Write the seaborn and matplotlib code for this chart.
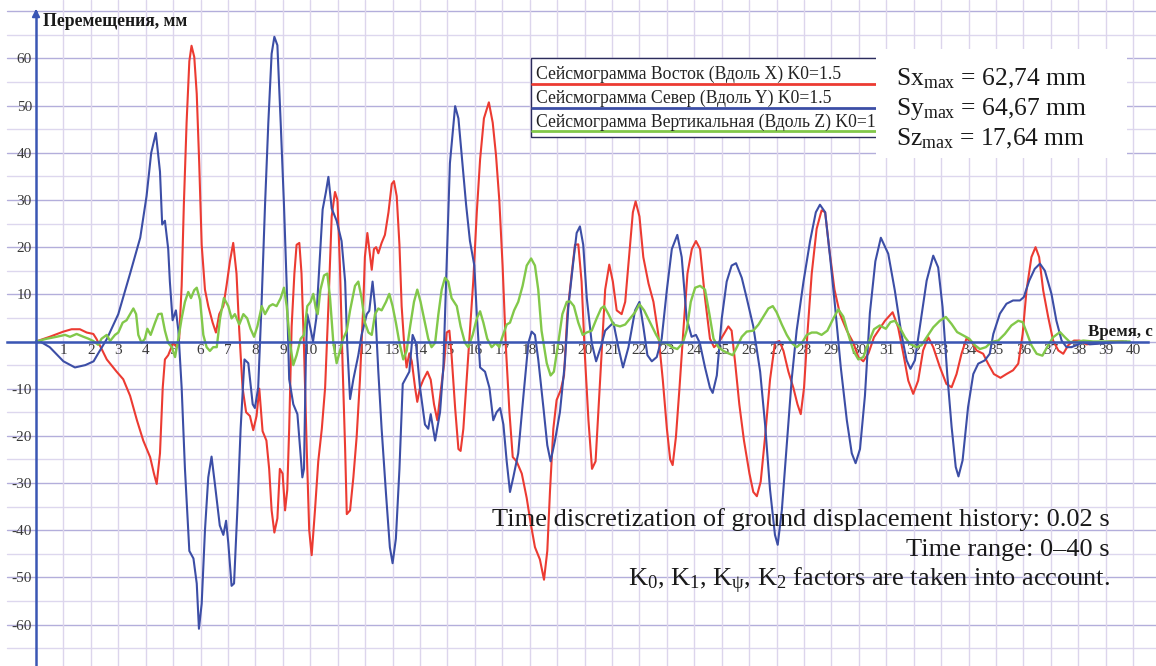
import numpy as np
import pandas as pd
import matplotlib
matplotlib.use("Agg")
import matplotlib.pyplot as plt
import seaborn as sns
from matplotlib.lines import Line2D
from matplotlib.patches import Rectangle

# ---------------- data ----------------
t_x = [0, 0.5, 1.0, 1.3, 1.6, 1.85, 2.09, 2.2, 2.36, 2.58, 2.94, 3.18, 3.43, 3.68, 3.91, 4.16, 4.3, 4.4, 4.52, 4.62,
       4.7, 4.82, 5.0, 5.13, 5.22, 5.31, 5.39, 5.49, 5.59, 5.67, 5.77, 5.86, 5.95, 6.04, 6.16, 6.28, 6.44, 6.56, 6.68, 6.83,
       6.95, 7.07, 7.19, 7.31, 7.41, 7.53, 7.66, 7.8, 7.92, 8.04, 8.14, 8.26, 8.4, 8.5, 8.59, 8.69, 8.8, 8.89, 8.99, 9.08,
       9.16, 9.23, 9.32, 9.42, 9.5, 9.6, 9.68, 9.77, 9.87, 9.96, 10.05, 10.17, 10.29, 10.42, 10.54, 10.66, 10.78, 10.9, 10.99, 11.08,
       11.18, 11.27, 11.33, 11.45, 11.57, 11.69, 11.81, 11.93, 11.99, 12.08, 12.15, 12.24, 12.32, 12.4, 12.48, 12.6, 12.72, 12.85, 12.97, 13.05,
       13.15, 13.25, 13.33, 13.43, 13.51, 13.61, 13.7, 13.82, 13.9, 14.0, 14.12, 14.27, 14.39, 14.51, 14.63, 14.75, 14.88, 14.97, 15.07, 15.15,
       15.28, 15.4, 15.48, 15.58, 15.7, 15.82, 15.94, 16.07, 16.19, 16.33, 16.51, 16.65, 16.77, 16.89, 17.01, 17.13, 17.26, 17.38, 17.52, 17.71,
       17.89, 18.03, 18.19, 18.37, 18.52, 18.64, 18.74, 18.86, 18.98, 19.13, 19.25, 19.37, 19.53, 19.65, 19.77, 19.89, 20.01, 20.14, 20.27, 20.4,
       20.5, 20.63, 20.75, 20.9, 21.03, 21.17, 21.35, 21.48, 21.63, 21.76, 21.86, 22.0, 22.14, 22.33, 22.51, 22.69, 22.85, 23.0, 23.12, 23.21,
       23.33, 23.46, 23.6, 23.75, 23.91, 24.06, 24.21, 24.39, 24.57, 24.72, 24.88, 25.06, 25.24, 25.36, 25.49, 25.64, 25.81, 26.01, 26.15, 26.28,
       26.42, 26.58, 26.76, 26.94, 27.1, 27.25, 27.43, 27.61, 27.76, 27.88, 28.0, 28.12, 28.28, 28.46, 28.64, 28.77, 28.92, 29.11, 29.31, 29.56,
       29.8, 29.98, 30.16, 30.35, 30.55, 30.95, 31.23, 31.43, 31.62, 31.8, 31.98, 32.16, 32.34, 32.53, 32.71, 32.95, 33.19, 33.38, 33.56, 33.74,
       33.92, 34.11, 34.29, 34.53, 34.71, 34.92, 35.16, 35.38, 35.62, 35.81, 35.97, 36.11, 36.29, 36.44, 36.57, 36.72, 36.9, 37.08, 37.27, 37.45,
       37.63, 37.84, 38.05, 38.3, 38.66, 39.15, 39.63]
v_x = [0, 1, 2.1, 2.6, 2.6, 1.9, 1.6, 0.6, -1.2, -3.8, -6.4, -8, -11.5, -16.7, -21, -24.5, -28, -30.2, -23.7, -9.8,
       -3.8, -2.9, -0.3, -1.2, 0.6, 11.8, 29, 46.4, 59.4, 62.7, 60.3, 52.5, 37.8, 20.5, 11, 7.5, 4, 1.9, 5.8, 7.5,
       12, 17, 20.9, 14.4, 2.3, -9.8, -15, -15.8, -18.8, -15.8, -10, -19, -21, -27, -35.8, -40.5, -37.5, -27, -28, -35.8,
       -31.5, -18.5, 3.2, 14.4, 20.5, 20.9, 14.4, -1.2, -22.8, -40, -45.3, -35.8, -25.4, -18.5, -9.8, 7.5, 26.5, 31.7, 30, 16.1,
       -5.5, -22.8, -36.6, -35.8, -28.8, -20.2, -8.1, 7.5, 17.9, 23, 19.6, 15.2, 19.6, 20, 18.7, 20.9, 22.6, 27.4, 33.4, 34,
       30.8, 20.5, 7.5, -1.2, -5.5, -2.5, -4.2, -9.8, -12.8, -9.8, -8.1, -6.4, -8.1, -13.3, -16.7, -10.7, -4.6, 1.9, 2.3, -2.9,
       -14.1, -22.8, -23.2, -18.5, -8.1, 2.3, 12.7, 27.4, 38.6, 47.3, 50.7, 46.4, 39.5, 30, 16.1, -1.2, -15, -24.5, -25.4, -28,
       -33.2, -38.4, -43.6, -46.2, -50.5, -44.4, -31.5, -18.5, -12.4, -10.3, -7.2, 5.8, 14.4, 20.5, 20.6, 12.7, -2.9, -16.7, -27, -25.4,
       -15, -1.2, 11, 16.3, 12.7, 6.6, 5.8, 8.4, 18.7, 27.4, 29.7, 26.5, 17.9, 12.3, 8.4, 1.4, -8.1, -18.5, -25, -26.2,
       -20.2, -9.8, 2.3, 14.4, 19.6, 21.3, 19.6, 9.2, 0.6, -1.2, -0.3, 1.4, 3.2, 2.3, -4.6, -13.3, -21, -28, -31.9, -32.8,
       -29.7, -20.2, -8.1, -0.3, 0.1, -2, -6.4, -9.8, -13.3, -15.4, -9.8, 1.4, 14.4, 23.9, 27.8, 27.4, 19.6, 11, 5.8, 2.3,
       -0.3, -3.3, -4.2, -2.5, 0.9, 4.4, 6.2, 3, -2.6, -8.3, -11.1, -8.3, -1.9, 0.9, -1.2, -5.4, -9, -9.7, -6.9, -2.6,
       0.6, -0.1, -1.9, -2.6, -4.7, -6.9, -7.7, -6.9, -6.1, -4.7, 1.6, 10.8, 17.9, 20, 17.9, 10.8, 5.2, 0.2, -1.9, -2.6,
       -0.8, 0.2, 0.2, -0.6, -0.4, 0, 0]

t_y = [0, 0.15, 0.5, 1.0, 1.42, 1.8, 2.1, 2.27, 2.58, 3.0, 3.43, 3.8, 4.03, 4.2, 4.37, 4.52, 4.6, 4.7, 4.82, 4.88,
       4.98, 5.1, 5.19, 5.31, 5.43, 5.59, 5.74, 5.86, 5.94, 6.04, 6.16, 6.28, 6.4, 6.53, 6.7, 6.83, 6.93, 7.01, 7.13, 7.22,
       7.34, 7.46, 7.6, 7.74, 7.9, 7.98, 8.1, 8.22, 8.35, 8.47, 8.59, 8.69, 8.8, 8.92, 9.04, 9.14, 9.23, 9.38, 9.53, 9.62,
       9.71, 9.77, 9.84, 9.89, 9.99, 10.1, 10.22, 10.33, 10.45, 10.57, 10.66, 10.78, 10.96, 11.14, 11.27, 11.35, 11.45, 11.57, 11.75, 11.87,
       12.06, 12.15, 12.27, 12.36, 12.48, 12.6, 12.76, 12.9, 13.0, 13.12, 13.25, 13.37, 13.49, 13.61, 13.73, 13.85, 14.0, 14.18, 14.3, 14.39,
       14.55, 14.73, 14.85, 14.97, 15.09, 15.28, 15.4, 15.52, 15.68, 15.82, 15.98, 16.07, 16.19, 16.37, 16.53, 16.67, 16.79, 16.92, 17.04, 17.16,
       17.28, 17.4, 17.58, 17.77, 17.95, 18.07, 18.19, 18.31, 18.5, 18.64, 18.76, 18.92, 19.1, 19.28, 19.41, 19.59, 19.71, 19.83, 19.95, 20.08,
       20.26, 20.42, 20.6, 20.75, 21.05, 21.23, 21.4, 21.6, 21.84, 22.0, 22.14, 22.29, 22.45, 22.63, 22.81, 23.0, 23.18, 23.38, 23.54, 23.72,
       23.9, 24.06, 24.2, 24.39, 24.57, 24.67, 24.82, 25.0, 25.18, 25.36, 25.52, 25.73, 25.91, 26.15, 26.4, 26.58, 26.76, 26.94, 27.04, 27.19,
       27.37, 27.55, 27.73, 27.98, 28.22, 28.43, 28.58, 28.77, 28.95, 29.13, 29.34, 29.56, 29.74, 29.88, 30.04, 30.22, 30.4, 30.6, 30.8, 31.07,
       31.31, 31.55, 31.74, 31.88, 32.04, 32.22, 32.47, 32.71, 32.89, 33.05, 33.22, 33.38, 33.53, 33.63, 33.78, 33.98, 34.17, 34.35, 34.59, 34.77,
       34.9, 35.14, 35.38, 35.62, 35.87, 36.01, 36.21, 36.41, 36.6, 36.78, 37.02, 37.2, 37.39, 37.57, 37.75, 37.93, 38.18, 38.42, 38.9, 39.4,
       39.75]
v_y = [0, 0, -1.2, -4.2, -5.5, -5, -4.2, -2.5, 0.5, 5.8, 14.4, 22, 30.8, 40, 44.2, 36, 24.8, 25.6, 19.6, 12.7,
       4.5, 6.6, 2.3, -9.8, -27, -44.4, -46, -51.3, -60.9, -55.6, -40, -28.8, -24.4, -30.6, -39, -41, -38, -42.7, -51.8, -51.3,
       -35.8, -18.5, -3.8, -4.6, -13.3, -14.1, -9.8, 7.5, 29, 46.4, 61, 64.6, 62.8, 46.4, 29, 11.8, -8, -13.3, -15.4, -22,
       -28.8, -27, -2.9, 5.8, 3.2, 0, 5, 16, 28, 31.7, 34.9, 28.2, 25.6, 21.3, 12.7, -1.2, -12.2, -8, -2.9, 1.4,
       5.8, 6.5, 12.7, 7.5, -6.4, -18.5, -32.3, -43.6, -47, -41.8, -27, -9, -7.7, -6.4, 1.4, -0.3, -9.8, -17.6, -18.5, -15.4,
       -21, -15, -5.5, 16, 37.8, 49.9, 47.3, 39.5, 29, 21.3, 16.1, 5.7, -5.5, -6.4, -9.8, -16.7, -15, -14.1, -17.6, -25.4,
       -31.9, -28.8, -23.7, -11.5, -0.3, 2.1, 1.4, -3.8, -14.1, -22, -25.4, -21, -15, -4.6, 7.5, 17, 23, 24.4, 20.5, 9.2,
       -0.3, -4.2, -1, 2.3, 4, -1.2, -5.5, -1.2, 6.6, 8.4, 3.2, -2.9, -4.2, -3.3, 0.6, 11, 19.6, 22.6, 17.9, 4.9,
       1, 1.4, -0.3, -5.5, -9.8, -10.9, -7.2, 4.9, 12.7, 16.1, 16.6, 13.5, 9.2, 3.2, -6.4, -17.6, -31.4, -41, -43.1, -35.8,
       -22, -8, 2.3, 12.7, 21.3, 27.4, 29, 27.4, 17.9, 7.5, -5.5, -16.7, -23.7, -25.8, -22.8, -11.5, 6, 17, 22, 18.6,
       10.8, 1.6, -4, -5.8, -4, 3, 12.9, 18.2, 15.7, 7.3, -6.9, -18.1, -26.6, -28.6, -25.2, -13.9, -6.9, -4.7, -4, -2.6,
       1.6, 5.9, 8, 8.7, 8.7, 9.4, 12.9, 15.4, 16.5, 15, 10.1, 4.4, 0.2, -1.2, -1.2, -0.8, -0.1, -0.6, -0.4, -0.1,
       0]

t_z = [0, 0.4, 0.75, 1.06, 1.24, 1.48, 1.73, 1.91, 2.09, 2.27, 2.39, 2.58, 2.7, 2.88, 3.0, 3.16, 3.3, 3.43, 3.55, 3.65,
       3.73, 3.85, 3.97, 4.06, 4.18, 4.34, 4.46, 4.58, 4.7, 4.82, 4.95, 5.07, 5.19, 5.31, 5.43, 5.55, 5.65, 5.77, 5.86, 5.98,
       6.1, 6.22, 6.34, 6.46, 6.59, 6.71, 6.85, 7.01, 7.13, 7.25, 7.41, 7.56, 7.7, 7.82, 7.95, 8.07, 8.23, 8.35, 8.51, 8.63,
       8.77, 8.92, 9.04, 9.14, 9.26, 9.38, 9.5, 9.65, 9.77, 9.89, 10.01, 10.11, 10.2, 10.27, 10.37, 10.5, 10.62, 10.72, 10.84, 10.96,
       11.08, 11.2, 11.33, 11.45, 11.63, 11.75, 11.87, 11.99, 12.12, 12.24, 12.36, 12.48, 12.6, 12.76, 12.88, 13.0, 13.12, 13.25, 13.39, 13.51,
       13.64, 13.78, 13.9, 14.02, 14.18, 14.3, 14.42, 14.55, 14.67, 14.79, 14.91, 15.03, 15.15, 15.34, 15.48, 15.64, 15.76, 15.92, 16.07, 16.19,
       16.31, 16.45, 16.61, 16.77, 16.89, 16.98, 17.16, 17.28, 17.43, 17.58, 17.74, 17.89, 18.05, 18.19, 18.31, 18.43, 18.62, 18.76, 18.88, 19.04,
       19.19, 19.35, 19.47, 19.61, 19.77, 19.93, 20.07, 20.26, 20.44, 20.6, 20.71, 20.87, 21.05, 21.29, 21.48, 21.66, 21.84, 22.0, 22.17, 22.39,
       22.61, 22.78, 22.97, 23.18, 23.38, 23.58, 23.72, 23.87, 24.03, 24.21, 24.39, 24.55, 24.7, 24.88, 25.06, 25.24, 25.4, 25.55, 25.73, 25.91,
       26.15, 26.34, 26.52, 26.7, 26.86, 27.0, 27.19, 27.37, 27.55, 27.73, 27.92, 28.1, 28.28, 28.46, 28.64, 28.85, 29.07, 29.25, 29.43, 29.62,
       29.8, 29.98, 30.16, 30.35, 30.55, 30.76, 30.98, 31.15, 31.31, 31.49, 31.68, 31.86, 32.1, 32.28, 32.47, 32.71, 32.95, 33.17, 33.38, 33.58,
       33.8, 34.02, 34.23, 34.41, 34.63, 34.83, 35.08, 35.32, 35.56, 35.81, 35.97, 36.11, 36.29, 36.48, 36.69, 36.9, 37.08, 37.33, 37.51, 37.69,
       37.93, 38.18, 38.54, 39.15, 39.88]
v_z = [0, 0.6, 1, 1.4, 1, 1.6, 1, 0.6, 0.1, -0.7, 0.6, 1.4, 0.1, 1.4, 1.9, 4, 4.5, 5.8, 7, 5.8,
       1.4, -0.3, 0.6, 2.7, 1.4, 4, 5.8, 5.9, 2.3, -0.3, -1.2, -3.3, 0.6, 4.9, 8.4, 10.5, 9.2, 10.9, 11.4, 8.8,
       1.4, -1.2, -2, -1.2, -1.2, 4.9, 9.2, 7.5, 4.9, 5.8, 3.6, 5.8, 4.9, 2.7, 1, 3.2, 7.5, 5.8, 7.5, 7.9,
       7.5, 9.2, 11.4, 7.5, -0.3, -5, -2.9, 0.6, 1.4, 7.5, 8.4, 10.1, 7, 5.8, 11, 14, 14.4, 9.2, -0.3, -4.6,
       -2, 0.6, 2.3, 6.6, 11.8, 12.7, 9.2, 4, 1.9, 1.4, 5.8, 7, 6.6, 8.4, 10.1, 7.5, 4, -0.3, -3.8, -2,
       3.2, 8.4, 11, 8.4, 4, 0.6, -1.2, -0.3, 5.8, 11, 13.5, 12.7, 9.2, 7.5, 3.2, -0.3, -1.2, 1.4, 4.9, 6.4,
       4, 0.6, -1.2, -0.3, -1.2, 0.6, 3.6, 4, 6.6, 8.4, 11.8, 16.1, 17.6, 16.1, 11, 2.3, -4.6, -7.2, -6.4, -0.3,
       5.8, 8.4, 8.5, 7.5, 4, 1.4, 1.9, 2.3, 4.9, 7, 7.5, 5.8, 3.6, 3.2, 3.6, 4.9, 6.2, 7.9, 6.6, 4,
       1.4, -0.3, -0.3, -1.2, -1.6, -0.3, 2.3, 8.4, 11.4, 11.8, 11, 5.8, 0.6, -1.2, -2, -2.5, -2.9, -1.2, 1, 2.1,
       2.3, 3.6, 5.3, 7, 7.5, 6.2, 3.6, 1.4, -0.3, -1.2, -0.3, 1.4, 1.9, 1.9, 1.4, 2.3, 4.9, 6.8, 5.3, 1.4,
       -2, -3.8, -3.3, -0.3, 2.6, 3.4, 2.7, 4.1, 4.4, 3, 0.9, -0.5, -1.2, -0.8, 0.9, 3, 4.4, 5.2, 3.7, 2,
       1.3, 0.6, -0.8, -1.6, -1.2, -0.1, 0.2, 1.6, 3.4, 4.4, 4.1, 2, -0.8, -2.6, -3, -0.8, 0.9, 2, 0.9, -0.1,
       -0.1, 0.2, 0, 0, 0]

series_names = ["Сейсмограмма Восток (Вдоль X) K0=1.5",
                "Сейсмограмма Север (Вдоль Y) K0=1.5",
                "Сейсмограмма Вертикальная (Вдоль Z) K0=1.5"]
x_ticks = list(range(1, 41))
y_ticks = [60, 50, 40, 30, 20, 10, -10, -20, -30, -40, -50, -60]
y_tick_labels = [str(v) for v in y_ticks]
max_labels = ["62,74", "64,67", "17,64"]
note_lines = ["Time discretization of ground displacement history: 0.02 s",
              "Time range: 0\u201340 s",
              r"K$_{\mathrm{0}}$, K$_{\mathrm{1}}$, K$_{\mathrm{\psi}}$, K$_{\mathrm{2}}$ factors are taken into account."]

# ---------------- style ----------------
sns.set_theme(style="white")
plt.rcParams["font.family"] = ["Liberation Serif", "DejaVu Serif"]
plt.rcParams["axes.unicode_minus"] = False
plt.rcParams["mathtext.fontset"] = "custom"
plt.rcParams["mathtext.rm"] = "Liberation Serif"
plt.rcParams["mathtext.it"] = "Liberation Serif:italic"
plt.rcParams["mathtext.bf"] = "Liberation Serif:bold"

RED = "#ec3b32"
BLUE = "#3c4ea6"
GREEN = "#82c84a"
AXIS = "#3a56b4"
W, H = 1156, 666

fig = plt.figure(figsize=(W / 100, H / 100), dpi=100)
ax = fig.add_axes([0, 0, 1, 1])
PX_PER_S = 27.43
PX_PER_MM = 4.717
X0, Y0 = 36.0, 341.5
ax.set_xlim(-X0 / PX_PER_S, (W - X0) / PX_PER_S)
ax.set_ylim(-(H - Y0) / PX_PER_MM, Y0 / PX_PER_MM)
ax.set_facecolor("white")

# grid
xmin_frac = 7 / W
for v in range(-65, 75, 5):
    col = "#b3aedb" if v % 10 == 0 else "#ddd7ee"
    ax.axhline(v, xmin=xmin_frac, color=col, lw=1.0, zorder=0)
for t in x_ticks:
    ax.axvline(t, color="#dcd5ec", lw=1.0, zorder=0)

# curves
df_x = pd.DataFrame({"t": t_x, "v": v_x})
df_y = pd.DataFrame({"t": t_y, "v": v_y})
df_z = pd.DataFrame({"t": t_z, "v": v_z})
sns.lineplot(data=df_x, x="t", y="v", ax=ax, color=RED, lw=1.5, estimator=None, sort=False, zorder=3)
sns.lineplot(data=df_y, x="t", y="v", ax=ax, color=BLUE, lw=1.5, estimator=None, sort=False, zorder=3)
sns.lineplot(data=df_z, x="t", y="v", ax=ax, color=GREEN, lw=1.7, estimator=None, sort=False, zorder=3)
ax.set_xlabel("")
ax.set_ylabel("")

# axes lines
for s in ["top", "right"]:
    ax.spines[s].set_visible(False)
ax.spines["left"].set_position(("data", 0))
ax.spines["bottom"].set_position(("data", 0))
ax.spines["left"].set_color(AXIS)
ax.spines["bottom"].set_color(AXIS)
ax.spines["left"].set_linewidth(1.8)
ax.spines["bottom"].set_linewidth(1.8)
ax.spines["left"].set_zorder(4)
ax.spines["bottom"].set_zorder(4)
ax.spines["left"].set_bounds(ax.get_ylim()[0], (Y0 - 12) / PX_PER_MM)
ax.spines["bottom"].set_bounds(-29 / PX_PER_S, (W - 8 - X0) / PX_PER_S)
ax.annotate("", xy=(0, (Y0 - 6) / PX_PER_MM), xytext=(0, (Y0 - 16) / PX_PER_MM),
            arrowprops=dict(arrowstyle="-|>", color=AXIS, lw=1.5, mutation_scale=11), zorder=4)
ax.annotate("", xy=((W + 1 - X0) / PX_PER_S, 0), xytext=((W - 12 - X0) / PX_PER_S, 0),
            arrowprops=dict(arrowstyle="-|>", color=AXIS, lw=1.5, mutation_scale=11), zorder=4)

ax.set_xticks(x_ticks)
ax.set_xticklabels([str(t) for t in x_ticks])
ax.set_yticks(y_ticks)
ax.set_yticklabels(y_tick_labels)
ax.tick_params(axis="both", length=0, labelsize=11, colors="#3a3a3a")
ax.tick_params(axis="x", pad=2.0)
ax.tick_params(axis="y", pad=3)
ax.grid(False)

def fx(px):
    return px / W

def fy(py):
    return 1 - py / H

# axis titles
fig.text(fx(43), fy(26), "Перемещения, мм", fontsize=12.7, fontweight="bold", color="#1a1a1a",
         ha="left", va="baseline", zorder=6)
fig.text(fx(1153), fy(336), "Время, с", fontsize=12.2, fontweight="bold", color="#1a1a1a",
         ha="right", va="baseline", zorder=6)

# legend block
lx0, lx1 = 531, 900
fig.add_artist(Rectangle((fx(lx0), fy(137)), (lx1 - lx0) / W, (137 - 57.5) / H,
                         transform=fig.transFigure, facecolor="white", edgecolor="#2c2c5c", lw=1.0, zorder=5))
for name, col, base, uy in zip(series_names, [RED, BLUE, GREEN], [79, 103, 127], [83.5, 108, 131]):
    fig.text(fx(536), fy(base), name, fontsize=12.7, color="#222222", ha="left", va="baseline", zorder=6)
    fig.add_artist(Line2D([fx(lx0 + 1), fx(lx1)], [fy(uy), fy(uy)], transform=fig.transFigure,
                          color=col, lw=2.0, zorder=6))

# max box
fig.add_artist(Rectangle((fx(876), fy(158)), (1127 - 876) / W, (158 - 49) / H,
                         transform=fig.transFigure, facecolor="white", edgecolor="none", zorder=7))
for comp, val, base in zip(["x", "y", "z"], max_labels, [85, 115, 145]):
    fig.text(fx(896), fy(base), "S" + comp + r"$_{\mathrm{max}}$" + " = " + val + " mm",
             fontsize=18.4, color="#1a1a1a", ha="left", va="baseline", zorder=8)

# notes
for line, base in zip(note_lines, [526, 556, 586]):
    fig.text(fx(1110), fy(base), line, fontsize=19, color="#1a1a1a", ha="right", va="baseline", zorder=8)

fig.savefig("out.png", dpi=100)
